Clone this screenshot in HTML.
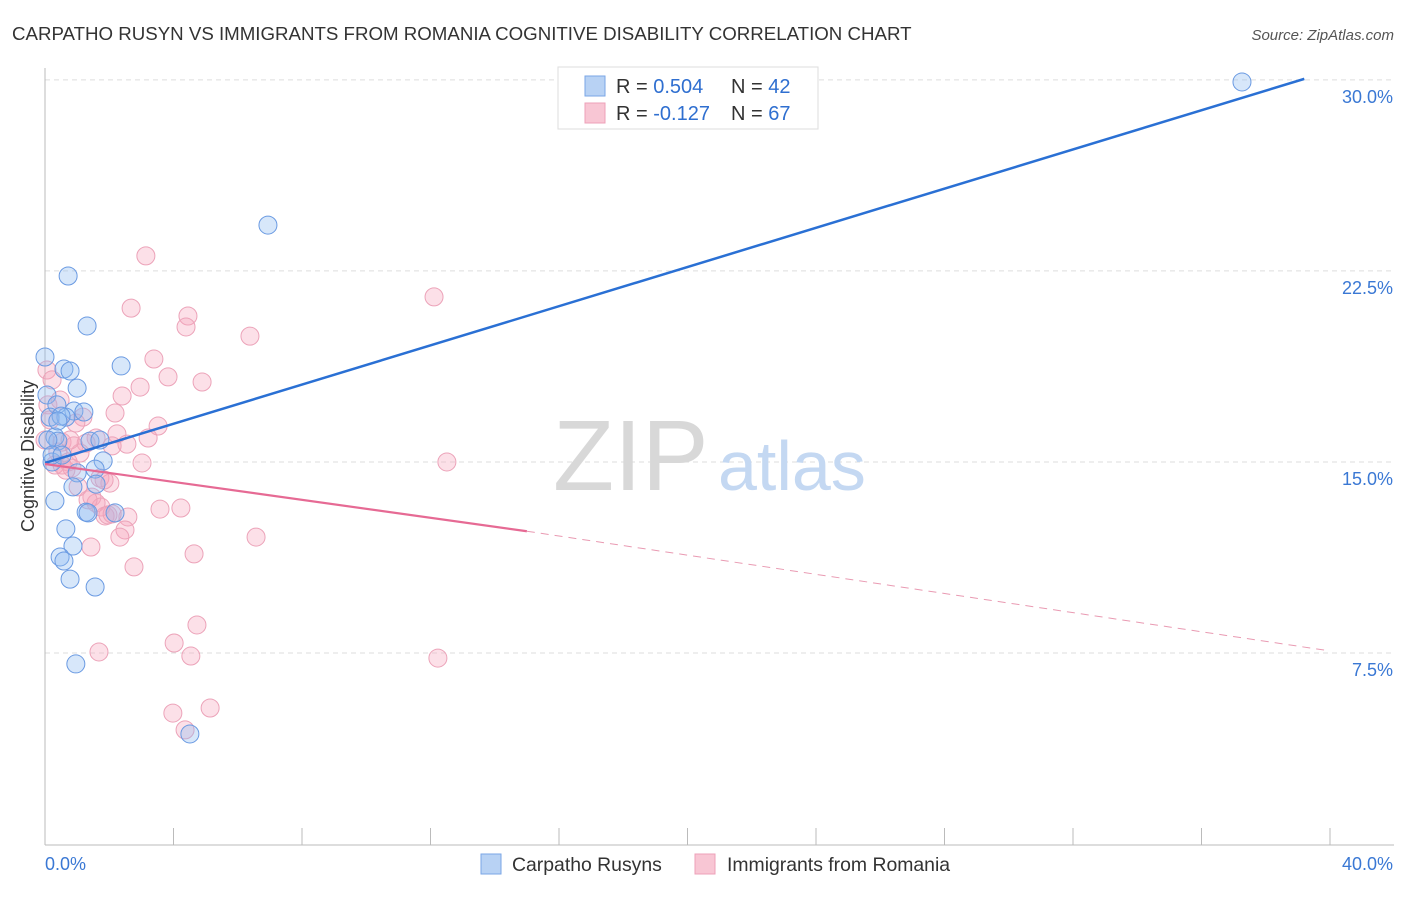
<!DOCTYPE html>
<html><head><meta charset="utf-8"><style>
body{margin:0;background:#fff;font-family:"Liberation Sans",sans-serif}
svg text{font-family:"Liberation Sans",sans-serif}
</style></head><body>
<svg id="chart" width="1406" height="892" xmlns="http://www.w3.org/2000/svg">
<text x="12" y="40" font-size="18.7" fill="#333">CARPATHO RUSYN VS IMMIGRANTS FROM ROMANIA COGNITIVE DISABILITY CORRELATION CHART</text>
<text x="1394" y="40" font-size="15" fill="#555" text-anchor="end" font-style="italic">Source: ZipAtlas.com</text>
<g id="grid"></g>
<g>
<text x="553" y="490" font-size="100" fill="#d8d8d8" font-family="Liberation Serif">ZIP</text>
<text x="718" y="490" font-size="70" fill="#c4d8f2">atlas</text>
</g>
<text transform="translate(34,456) rotate(-90)" font-size="18" fill="#333" text-anchor="middle">Cognitive Disability</text>
<g id="pts"></g>
<g id="trends"></g>
<g>
<rect x="558" y="67" width="260" height="62" fill="#fff" stroke="#ddd"/>
<rect x="585" y="76" width="20" height="20" fill="#b8d2f4" stroke="#7aa6e6"/>
<rect x="585" y="103" width="20" height="20" fill="#f8c6d4" stroke="#eea0b8"/>
<text x="616" y="93" font-size="20" fill="#333">R = <tspan fill="#2f6fd0">0.504</tspan></text>
<text x="731" y="93" font-size="20" fill="#333">N = <tspan fill="#2f6fd0">42</tspan></text>
<text x="616" y="120" font-size="20" fill="#333">R = <tspan fill="#2f6fd0">-0.127</tspan></text>
<text x="731" y="120" font-size="20" fill="#333">N = <tspan fill="#2f6fd0">67</tspan></text>
</g>
<g>
<rect x="481" y="854" width="20" height="20" fill="#b8d2f4" stroke="#7aa6e6"/>
<text x="512" y="871" font-size="19.4" fill="#333">Carpatho Rusyns</text>
<rect x="695" y="854" width="20" height="20" fill="#f8c6d4" stroke="#eea0b8"/>
<text x="727" y="871" font-size="19.4" fill="#333">Immigrants from Romania</text>
</g>
</svg>
<script>
const yTicks=[7.5,15,22.5,30];
const yTickLabels=["7.5%","15.0%","22.5%","30.0%"];
const xTickLabels=["0.0%","40.0%"];
const blueX=[37.26,6.94,0.72,1.31,0,0.59,0.78,2.37,1.00,0.06,0.37,0.90,0.16,0.65,0.50,0.31,0.40,1.40,1.71,0.22,1.81,1.56,1.00,0.87,1.59,0.31,1.28,1.34,2.18,0.65,0.87,0.47,0.59,0.78,1.56,0.96,4.51,0.09,0.22,0.53,0.40,1.21];
const blueY=[29.92,24.30,22.30,20.34,19.12,18.65,18.57,18.77,17.90,17.63,17.24,17.00,16.76,16.76,16.80,15.98,15.82,15.82,15.86,15.00,15.04,14.72,14.57,14.02,14.13,13.47,13.03,13.00,13.00,12.37,11.70,11.27,11.11,10.40,10.09,7.07,4.32,15.86,15.27,15.27,16.61,16.96];
const pinkX=[3.14,2.68,4.45,4.39,6.38,12.11,3.39,3.83,4.89,2.96,2.40,0.06,0.22,0.09,2.18,1.18,0.16,0.96,3.52,2.24,3.21,1.59,2.55,0.53,0.90,1.28,2.09,0.40,1.09,0.72,3.02,12.51,0.53,0.84,1.71,2.02,1.03,1.46,1.59,1.74,3.58,4.23,2.58,1.87,1.96,2.49,2.33,6.57,1.43,4.64,2.77,4.02,4.54,1.68,12.23,4.73,3.98,5.14,4.36,0,0.31,0.65,0.47,0.78,1.34,1.84,2.09];
const pinkY=[23.09,21.04,20.73,20.30,19.94,21.48,19.04,18.34,18.14,17.94,17.59,18.61,18.22,17.24,16.92,16.76,16.65,16.53,16.41,16.10,15.94,15.94,15.70,15.78,15.63,15.74,15.63,15.39,15.35,15.00,14.96,15.00,14.88,14.76,14.37,14.17,14.02,13.62,13.39,13.23,13.15,13.19,12.84,12.88,12.92,12.33,12.05,12.05,11.66,11.39,10.88,7.89,7.38,7.54,7.30,8.60,5.14,5.34,4.48,15.86,14.88,14.68,17.43,15.86,13.51,14.29,12.96];
const blueTrend=[0,14.96,39.2,30.04];
const pinkTrend=[0,14.92,15,12.28,40,7.58];
const NS="http://www.w3.org/2000/svg";
const X=v=>45+v*32.125, Y=v=>844-v*25.47;
function mk(t,a,p){const e=document.createElementNS(NS,t);for(const k in a)e.setAttribute(k,a[k]);p.appendChild(e);return e;}
const grid=document.getElementById('grid');
yTicks.forEach((t,i)=>{
 const l=mk('line',{x1:45,x2:1394,y1:Y(t),y2:Y(t),stroke:'#ddd','stroke-dasharray':'5,4'},grid);
 
 
 const tx=mk('text',{x:1393,y:Y(t)+23,'font-size':18,fill:'#3a78d4','text-anchor':'end'},grid);
 tx.textContent=yTickLabels[i];
 
 
});
mk('line',{x1:45,x2:45,y1:68,y2:845,stroke:'#bbb'},grid);
mk('line',{x1:45,x2:1394,y1:845,y2:845,stroke:'#bbb'},grid);
for(let i=0;i<=10;i++){const x=X(i*4);const t=mk('line',{x1:x,x2:x,y1:828,y2:845,stroke:'#bbb'},grid);}
[[0,45,'start'],[1,1393,'end']].forEach(([i,x,a])=>{const t=mk('text',{x:x,y:870,'font-size':18,fill:'#3a78d4','text-anchor':a},grid);t.textContent=xTickLabels[i];});
const pts=document.getElementById('pts');
pinkX.forEach((v,i)=>{const c=mk('circle',{cx:X(v),cy:Y(pinkY[i]),r:9,fill:'rgba(245,165,190,0.35)',stroke:'#eca3b9','stroke-width':1},pts);
 
 });
blueX.forEach((v,i)=>{const c=mk('circle',{cx:X(v),cy:Y(blueY[i]),r:9,fill:'rgba(140,185,240,0.35)',stroke:'#6a9ae2','stroke-width':1},pts);
 
 });
const tr=document.getElementById('trends');
let l=mk('line',{x1:X(blueTrend[0]),y1:Y(blueTrend[1]),x2:X(blueTrend[2]),y2:Y(blueTrend[3]),stroke:'#2a70d4','stroke-width':2.5},tr);


l=mk('line',{x1:X(pinkTrend[0]),y1:Y(pinkTrend[1]),x2:X(pinkTrend[2]),y2:Y(pinkTrend[3]),stroke:'#e66a94','stroke-width':2.2},tr);


l=mk('line',{x1:X(pinkTrend[2]),y1:Y(pinkTrend[3]),x2:X(pinkTrend[4]),y2:Y(pinkTrend[5]),stroke:'#e99ab2','stroke-width':1,'stroke-dasharray':'8,6'},tr);


</script>
</body></html>
